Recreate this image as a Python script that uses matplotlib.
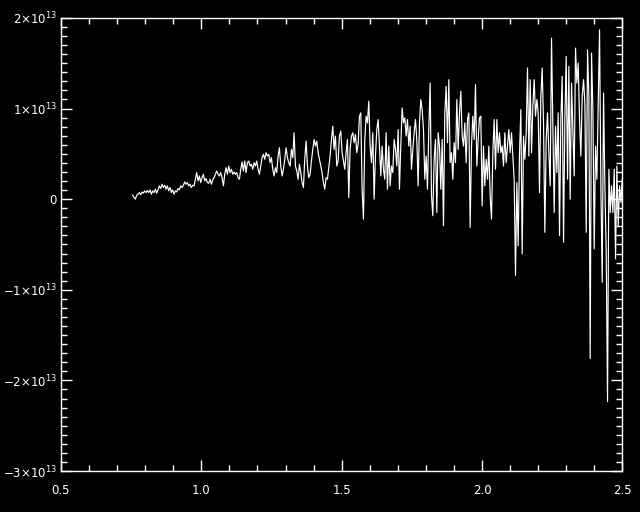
import numpy as np
import matplotlib
matplotlib.use("Agg")
import matplotlib.pyplot as plt
from matplotlib.ticker import MultipleLocator, FixedLocator

# flux values in units of 1e12 left to right
flux_a = [0.44, 0.18, 0.00, 0.44, 0.55, 0.73, 0.51, 0.80, 0.66, 0.92,
          0.73, 0.95, 0.73, 1.03, 0.55, 0.92, 0.73, 1.10, 0.66, 1.03,
          1.47, 1.17, 1.65, 1.28, 1.54, 1.10, 1.47, 0.92, 1.28, 0.73,
          1.03, 0.55, 0.92, 0.80, 1.17, 1.03, 1.47, 1.28, 1.54, 1.90,
          1.65, 1.83, 1.47, 1.65, 1.28, 1.54, 1.47, 2.20, 2.93, 2.01,
          2.56, 1.83, 2.38, 2.75, 2.01, 2.27, 1.83, 1.76, 2.20, 1.65,
          2.12, 2.38, 2.75, 3.11, 2.75, 2.56, 2.93, 2.38, 1.47, 2.75,
          3.48, 2.75, 3.66, 2.93, 3.30, 2.75, 3.00, 2.75, 2.93, 2.38,
          2.20, 3.30, 4.10, 3.11, 4.21, 2.93, 4.03, 4.21, 3.66]
flux_b = [3.85, 3.30, 4.03, 3.66, 4.21, 3.30, 2.75, 3.66, 4.58, 4.95,
          4.40, 5.13, 4.76, 4.95, 4.03, 4.58, 3.30, 2.56, 3.48, 2.93,
          4.76, 5.68, 3.66, 2.56, 3.30, 4.40, 5.68, 4.58, 4.03, 3.66,
          5.49, 4.58, 7.33, 3.66, 3.11, 2.20, 3.85, 2.93, 1.83, 1.28,
          4.40, 6.41, 3.66, 2.38, 2.75, 4.21, 5.49, 6.59, 5.86, 6.41,
          5.13, 4.40, 3.66, 2.93, 1.83, 1.10, 2.38, 2.20, 3.48, 4.76,
          6.59, 8.06, 5.49, 6.96, 3.66, 4.21, 6.96, 7.51, 5.13, 4.21,
          3.30, 5.13, 6.59, 0.18, 5.49, 6.96, 7.33, 6.23, 7.14, 5.13,
          6.04, 9.16]
flux_c = [9.52, 1.10, -2.20, 6.59, 9.16, 8.42, 10.81, 5.86, 4.03, 7.33,
          0.00, 4.76, 7.69, 8.79, 5.86, 2.56, 5.86, 3.30, 2.20, 7.33,
          1.10, 5.86, 1.47, 3.66, 2.93, 6.59, 5.49, 3.66, 7.69, 1.10,
          5.86, 10.07, 8.42, 8.97, 6.96, 8.79, 5.86, 8.06, 3.30, 5.49,
          7.33, 8.79, 6.59, 1.47, 8.42, 10.99, 9.89, 7.69, 2.20, 4.76,
          1.10, 7.69, 12.82, 0.37, -1.83, 4.40, 6.59, -1.47, 7.33, 5.86,
          1.10, 6.59, -2.93, 9.52, 12.45, 6.23, 13.19, 4.03, 5.13, 2.20,
          6.23, 4.03, 10.99, 5.49, 9.52, 11.90, 6.96, 5.86, 8.42, 4.03,
          8.79, 9.52, -3.11, 5.86, 9.16, 6.59, 12.64, 3.66, 6.59, 8.97]
flux_d = [9.16, -0.73, 5.86, 1.47, 4.40, 2.20, 5.86, 0.37, -2.20, 5.13,
          8.79, 3.30, 8.79, 5.13, 7.33, 5.13, 5.86, 3.66, 7.33, 4.03,
          5.86, 7.69, 5.13, 7.33, 4.76, 2.20, -8.42, 1.83, -5.13, 5.13,
          9.89, -6.04, 6.96, 4.40, 7.33, 14.47, 4.76, 13.19, 5.13, 10.26,
          13.19, 9.16, 10.99, 9.52, 0.73, 11.36, 14.47, 8.42, -3.66, 6.59,
          9.52, 5.13, 1.47, 17.77, 8.42, -1.47, 8.06, 2.93, 9.52, -4.03,
          8.79, 13.55, -4.76, 8.79, 15.75, 2.20, 14.65, 0.00, 12.82, 7.69,
          2.56, 16.67, 12.82, 15.02, 8.79, 4.76, 11.36, 13.19, 10.62, -3.66,
          16.48, 11.36, -17.58, 16.12, 9.89, -5.49, 5.86, 2.20, 10.62, 18.68,
          1.47, -9.16, 11.72, 1.47, -5.86, -22.34, 3.30, -1.47, 1.47, -1.47,
          3.30, -6.59, 3.66, -2.93, 1.47, -0.37, 2.20]

wl_start, wl_end = 0.7555, 2.4998
yticks = [-3e13, -2e13, -1e13, 0, 1e13, 2e13]
ytick_labels = [r"$-$3$\times$10$^{13}$", r"$-$2$\times$10$^{13}$",
                r"$-$1$\times$10$^{13}$", "0",
                r"1$\times$10$^{13}$", r"2$\times$10$^{13}$"]
xticks = [0.5, 1.0, 1.5, 2.0, 2.5]

flux = np.array(flux_a + flux_b + flux_c + flux_d) * 1e12
wl = np.linspace(wl_start, wl_end, len(flux))

fig = plt.figure(figsize=(6.4, 5.12), dpi=100, facecolor="black")
ax = fig.add_axes([0.0953, 0.080, 0.877, 0.885], facecolor="black")
ax.plot(wl, flux, color="white", lw=0.85)

ax.set_xlim(0.5, 2.5)
ax.set_ylim(-3e13, 2e13)
ax.xaxis.set_major_locator(FixedLocator(xticks))
ax.set_xticklabels(["%.1f" % t for t in xticks])
ax.xaxis.set_minor_locator(MultipleLocator(0.1))
ax.yaxis.set_major_locator(FixedLocator(yticks))
ax.set_yticklabels(ytick_labels)
ax.yaxis.set_minor_locator(MultipleLocator(1e12))

for s in ax.spines.values():
    s.set_color("white")
    s.set_linewidth(1)
ax.tick_params(which="both", direction="in", colors="white", top=True, right=True,
               labelsize=8.5, width=1)
ax.tick_params(which="major", length=8)
ax.tick_params(which="minor", length=4.5)
ax.tick_params(axis="x", pad=9)
ax.tick_params(axis="y", pad=3)

fig.savefig("out.png", dpi=100, facecolor="black")
